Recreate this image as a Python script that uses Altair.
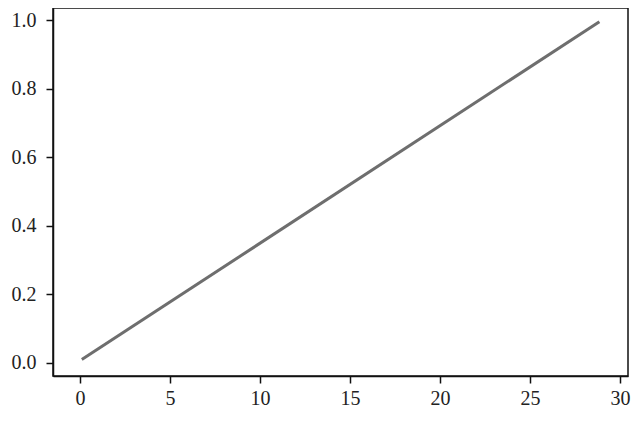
import altair as alt
import pandas as pd

# data
x_values = [0.1, 28.85]
y_values = [0.01, 0.995]
x_ticks = [0, 5, 10, 15, 20, 25, 30]
y_ticks = [0.0, 0.2, 0.4, 0.6, 0.8, 1.0]

df = pd.DataFrame({"x": x_values, "y": y_values})

font = "Liberation Serif"

chart = alt.Chart(df).mark_line(color="#6e6e6e", strokeWidth=3, clip=True).encode(
    x=alt.X("x:Q", scale=alt.Scale(domain=[-1.5, 30.44], nice=False, zero=False),
            axis=alt.Axis(values=x_ticks, format="d", title=None, grid=False,
                          tickSize=7, labelPadding=5)),
    y=alt.Y("y:Q", scale=alt.Scale(domain=[-0.038, 1.035], nice=False, zero=False),
            axis=alt.Axis(values=y_ticks, format=".1f", title=None, grid=False,
                          tickSize=7, labelPadding=10)),
).properties(
    width=575, height=368,
    background="white",
    autosize=alt.AutoSizeParams(type="none"),
    padding={"left": 45, "top": 0, "right": 4, "bottom": 37},
).configure_view(
    stroke="#111111", strokeWidth=1.5
).configure_axis(
    labelFont=font, labelFontSize=20, labelColor="#222222",
    domainColor="#111111", domainWidth=1.5, tickColor="#111111", tickWidth=1.5,
)

chart.save("out.html", embed_options={"renderer": "svg", "actions": False})
